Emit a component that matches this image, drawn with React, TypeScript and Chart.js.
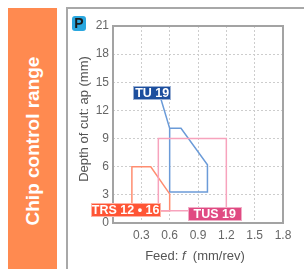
import React, { useEffect, useRef } from "react";
import { Chart, registerables } from "chart.js";
Chart.register(...registerables);

// ---- data ----
const xTickValues = [0, 0.3, 0.6, 0.9, 1.2, 1.5, 1.8];
const xTickLabels = ["", "0.3", "0.6", "0.9", "1.2", "1.5", "1.8"];
const yTickValues = [0, 3, 6, 9, 12, 15, 18, 21];
const yTickLabels = ["0", "3", "6", "9", "12", "15", "18", "21"];

const tu19X = [0.49, 0.6, 0.6, 1.0, 1.0, 0.72, 0.6];
const tu19Y = [13.8, 10.1, 3.3, 3.3, 6.2, 10.1, 10.1];
const tus19X = [0.48, 0.48, 1.2, 1.2, 0.48];
const tus19Y = [1.3, 9, 9, 1.3, 1.3];
const trsX = [0.2, 0.2, 0.4, 0.6, 0.6, 0.2];
const trsY = [1.3, 6, 6, 3.1, 1.3, 1.3];

const labelNames = ["TU 19", "TRS 12 • 16", "TUS 19"];
const labelX = [0.415, 0.134, 1.077];
const labelY = [13.9, 1.39, 0.96];

// ---- styles ----
const labelBg = ["#1d4f9e", "#ff5535", "#e04a82"];
const labelPad = [1, 0, 5];
const FONT = "'Liberation Sans', Arial, Helvetica, sans-serif";

const pts = (xs: number[], ys: number[]) => xs.map((x, i) => ({ x, y: ys[i] }));

const overlayPlugin = {
  id: "overlay",
  beforeDatasetsDraw(chart: any) {
    const { ctx, chartArea } = chart;
    ctx.save();
    ctx.strokeStyle = "#a3a3a3";
    ctx.lineWidth = 2;
    ctx.strokeRect(chartArea.left, chartArea.top, chartArea.right - chartArea.left, chartArea.bottom - chartArea.top);
    ctx.restore();
  },
  afterDatasetsDraw(chart: any) {
    const { ctx, scales } = chart;
    ctx.save();
    ctx.font = `bold 12.5px ${FONT}`;
    ctx.textAlign = "center";
    ctx.textBaseline = "middle";
    labelNames.forEach((name, i) => {
      const cx = scales.x.getPixelForValue(labelX[i]);
      const cy = scales.y.getPixelForValue(labelY[i]);
      const w = ctx.measureText(name).width + labelPad[i] * 2 + 2;
      const h = 14;
      ctx.fillStyle = labelBg[i];
      ctx.fillRect(Math.round(cx - w / 2), Math.round(cy - h / 2), Math.round(w), h);
      ctx.strokeStyle = "rgba(255,255,255,0.55)";
      ctx.lineWidth = 1;
      ctx.strokeRect(Math.round(cx - w / 2) + 0.5, Math.round(cy - h / 2) + 0.5, Math.round(w) - 1, h - 1);
      ctx.fillStyle = "#ffffff";
      ctx.fillText(name, cx, cy + 0.5);
    });
    ctx.restore();
  },
};

function ChipChart() {
  const ref = useRef<HTMLCanvasElement | null>(null);
  useEffect(() => {
    if (!ref.current) return;
    const chart = new Chart(ref.current, {
      type: "scatter",
      data: {
        datasets: [
          { label: "TUS 19", data: pts(tus19X, tus19Y), showLine: true, borderColor: "#f7a3bd", borderWidth: 1.5, pointRadius: 0, fill: false },
          { label: "TRS 12 • 16", data: pts(trsX, trsY), showLine: true, borderColor: "#ff8d70", borderWidth: 1.5, pointRadius: 0, fill: false },
          { label: "TU 19", data: pts(tu19X, tu19Y), showLine: true, borderColor: "#6b9bd8", borderWidth: 1.5, pointRadius: 0, fill: false },
        ],
      },
      options: {
        responsive: false,
        animation: false,
        events: [],
        layout: { padding: { left: 0, right: 21, top: 18, bottom: 0 } },
        plugins: { legend: { display: false }, tooltip: { enabled: false } },
        scales: {
          x: {
            type: "linear",
            min: 0,
            max: 1.8,
            afterBuildTicks: (s: any) => {
              s.ticks = xTickValues.map((v) => ({ value: v }));
            },
            afterFit: (s: any) => {
              s.height = 46;
            },
            ticks: {
              autoSkip: false,
              maxRotation: 0,
              padding: 5,
              color: "#666",
              font: { family: FONT, size: 12 },
              callback: (_v: any, i: number) => xTickLabels[i],
            },
            grid: { color: "#cdcdcd", drawTicks: false, lineWidth: 1 },
            border: { display: false, dash: [2, 2] },
          },
          y: {
            type: "linear",
            min: 0,
            max: 21,
            afterBuildTicks: (s: any) => {
              s.ticks = yTickValues.map((v) => ({ value: v }));
            },
            afterFit: (s: any) => {
              s.width = 46;
            },
            ticks: {
              autoSkip: false,
              padding: 4,
              color: "#666",
              font: { family: FONT, size: 12 },
              callback: (_v: any, i: number) => yTickLabels[i],
            },
            grid: { color: "#cdcdcd", drawTicks: false, lineWidth: 1 },
            border: { display: false, dash: [2, 2] },
          },
        },
      },
      plugins: [overlayPlugin],
    } as any);
    return () => chart.destroy();
  }, []);
  return <canvas ref={ref} width={237} height={261} style={{ display: "block", width: 237, height: 261 }} />;
}

export default function App() {
  return (
    <div style={{ position: "fixed", left: 0, top: 0, width: 304, height: 269, overflow: "hidden", background: "#fff", fontFamily: FONT }}>
      <div
        style={{
          position: "absolute",
          left: 8,
          top: 8,
          width: 49,
          height: 270,
          background: "#ff8a50",
        }}
      />
      <div
        style={{
          position: "absolute",
          left: 33,
          top: 141,
          transform: "translate(-50%, -50%) rotate(-90deg)",
          whiteSpace: "nowrap",
          color: "#fff",
          fontWeight: "bold",
          fontSize: 19,
        }}
      >
        Chip control range
      </div>
      <div
        style={{
          position: "absolute",
          left: 66,
          top: 7,
          width: 260,
          height: 280,
          border: "2px solid #a8a8a8",
          boxSizing: "border-box",
        }}
      />
      <div style={{ position: "absolute", left: 67, top: 8 }}>
        <ChipChart />
      </div>
      <div
        style={{
          position: "absolute",
          left: 72,
          top: 16,
          width: 14,
          height: 15,
          background: "#2aa7df",
          borderRadius: 3,
          color: "#1a1a1a",
          fontWeight: "bold",
          fontSize: 14,
          lineHeight: "15px",
          textAlign: "center",
        }}
      >
        P
      </div>
      <div
        style={{
          position: "absolute",
          left: 83,
          top: 119,
          transform: "translate(-50%, -50%) rotate(-90deg)",
          whiteSpace: "nowrap",
          color: "#555",
          fontSize: 13,
        }}
      >
        Depth of cut: ap (mm)
      </div>
      <div
        style={{
          position: "absolute",
          left: 195,
          top: 255,
          transform: "translate(-50%, -50%)",
          whiteSpace: "nowrap",
          color: "#555",
          fontSize: 13,
        }}
      >
        Feed: <i>f</i>&nbsp; (mm/rev)
      </div>
    </div>
  );
}
